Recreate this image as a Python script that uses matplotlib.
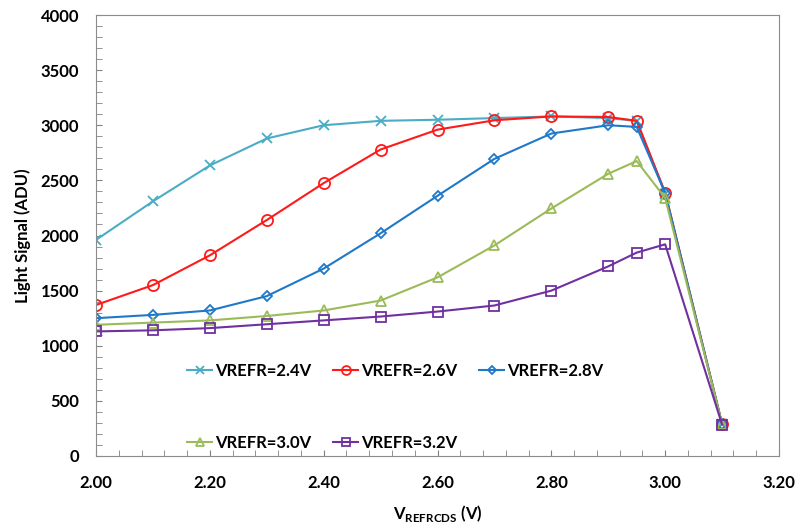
import numpy as np
import matplotlib
matplotlib.use("Agg")
import matplotlib.pyplot as plt
from matplotlib.ticker import MultipleLocator

plt.rcParams['font.family'] = ['Lato', 'DejaVu Sans']
plt.rcParams['font.weight'] = 'bold'
plt.rcParams['mathtext.fontset'] = 'custom'
plt.rcParams['mathtext.rm'] = 'Lato:bold'
plt.rcParams['mathtext.bf'] = 'Lato:bold'

vref = np.array([2.0, 2.1, 2.2, 2.3, 2.4, 2.5, 2.6, 2.7, 2.8, 2.9, 2.95, 3.0, 3.1])
s24 = [1960, 2310, 2635, 2880, 3000, 3040, 3050, 3065, 3080, 3065, 3040, 2380, 290]
s26 = [1370, 1550, 1820, 2140, 2475, 2780, 2960, 3045, 3080, 3075, 3040, 2390, 290]
s28 = [1250, 1280, 1320, 1450, 1700, 2020, 2360, 2695, 2925, 3000, 2985, 2385, 290]
s30 = [1190, 1210, 1230, 1270, 1320, 1410, 1620, 1910, 2245, 2560, 2675, 2340, 290]
s32 = [1130, 1140, 1160, 1195, 1230, 1265, 1310, 1365, 1500, 1720, 1845, 1920, 285]

labels = ['VREFR=2.4V', 'VREFR=2.6V', 'VREFR=2.8V', 'VREFR=3.0V', 'VREFR=3.2V']
colors = ['#4BACC6', '#FF1A1A', '#1F78C8', '#9BBB59', '#7030A0']
markers = ['x', 'o', 'D', '^', 's']
sizes = [7, 8, 5.5, 7.5, 7.5]

fig = plt.figure(figsize=(7.98, 5.26), dpi=100)
ax = fig.add_axes([96/798, 1-456/526, (779-96)/798, (456-15)/526])

lines = []
for y, lab, c, m, ms in zip([s24, s26, s28, s30, s32], labels, colors, markers, sizes):
    ln, = ax.plot(vref, y, color=c, marker=m, markersize=ms, mfc='none', mec=c,
                  mew=1.3, lw=1.5, label=lab)
    lines.append(ln)

ax.set_xlim(2.0, 3.2)
ax.set_ylim(0, 4000)
ax.xaxis.set_major_locator(MultipleLocator(0.2))
ax.xaxis.set_minor_locator(MultipleLocator(0.04))
ax.yaxis.set_major_locator(MultipleLocator(500))
ax.yaxis.set_minor_locator(MultipleLocator(100))
ax.xaxis.set_major_formatter(lambda v, p: f'{v:.2f}')
ax.tick_params(which='both', direction='in', length=4, color='#808080',
               top=False, right=False)
ax.tick_params(axis='x', which='major', labelsize=12, pad=14)
ax.tick_params(axis='y', which='major', labelsize=12, pad=12)
for sp in ax.spines.values():
    sp.set_color('#8C8C8C')

ax.set_xlabel(r'V$_{\mathrm{REFRCDS}}$ (V)', fontsize=12, fontweight='bold', labelpad=8)
ax.set_ylabel('Light Signal (ADU)', fontsize=12, fontweight='bold', labelpad=7)

# row-major order for the 3-column legend
order = [0, 3, 1, 4, 2]
leg = ax.legend([lines[i] for i in order], [labels[i] for i in order],
                loc='upper left', bbox_to_anchor=(172/798, 1-348/526),
                bbox_transform=fig.transFigure, ncol=3, frameon=False,
                prop={'weight': 'bold', 'size': 12}, labelspacing=3.35,
                columnspacing=1.3, handlelength=1.5, handletextpad=0.2,
                markerscale=0.8)

fig.savefig('out.png', dpi=100)
